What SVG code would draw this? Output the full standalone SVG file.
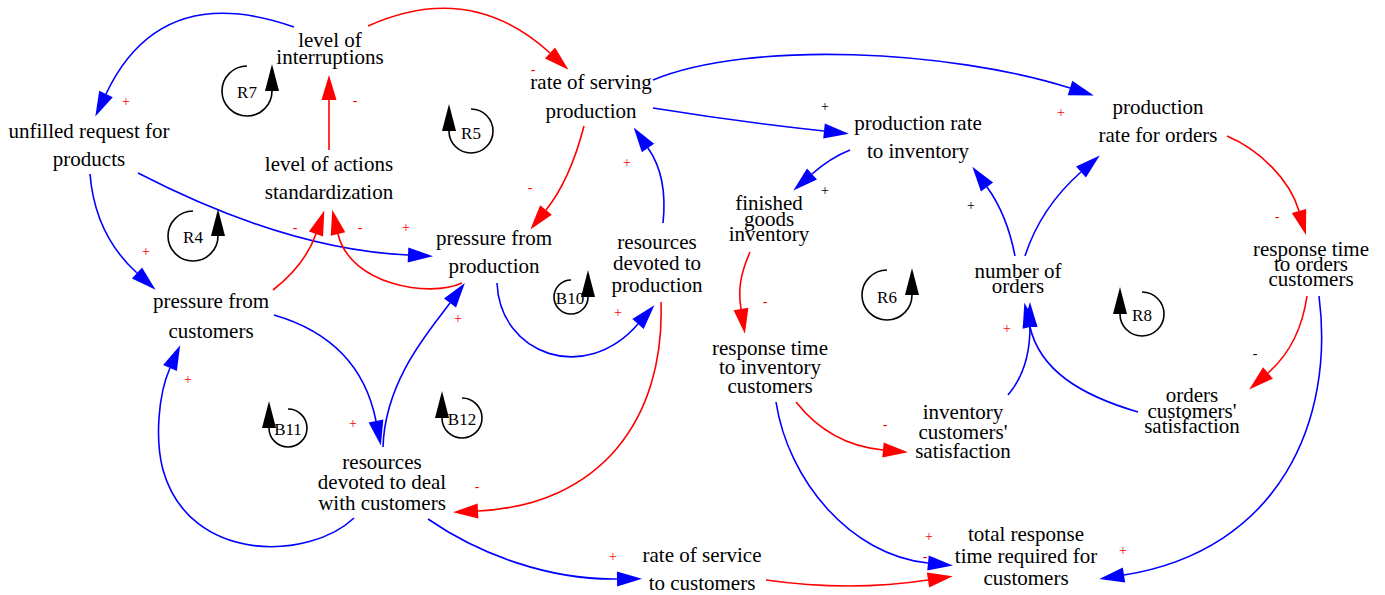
<svg xmlns="http://www.w3.org/2000/svg" width="1385" height="595" viewBox="0 0 1385 595">
<style>
.n{font-family:"Liberation Serif","Times New Roman",serif;font-size:21px;fill:#000;text-anchor:middle}
.lp{font-family:"Liberation Serif","Times New Roman",serif;font-size:17px;fill:#000;text-anchor:middle}
.p{font-family:"Liberation Serif","Times New Roman",serif;font-size:14px;fill:#f00;text-anchor:middle}
.pk{fill:#000}
.b{fill:none;stroke:#00f;stroke-width:1.6;marker-end:url(#ab)}
.r{fill:none;stroke:#f00;stroke-width:1.6;marker-end:url(#ar)}
.k{fill:none;stroke:#000;stroke-width:1.6;marker-end:url(#ak)}
</style>
<defs>
<marker id="ab" markerUnits="userSpaceOnUse" markerWidth="26" markerHeight="15" viewBox="0 0 26 15" refX="0" refY="7.5" orient="auto" overflow="visible"><path d="M0,0 L25,7.5 L0,15 z" fill="#00f"/></marker>
<marker id="ar" markerUnits="userSpaceOnUse" markerWidth="26" markerHeight="15" viewBox="0 0 26 15" refX="0" refY="7.5" orient="auto" overflow="visible"><path d="M0,0 L25,7.5 L0,15 z" fill="#f00"/></marker>
<marker id="ak" markerUnits="userSpaceOnUse" markerWidth="28" markerHeight="14" viewBox="0 0 28 14" refX="0" refY="7" orient="auto" overflow="visible"><path d="M0,0 L27,7 L0,14 z" fill="#000"/></marker>
</defs>
<rect width="1385" height="595" fill="#fff"/>

<g id="connectors">
<path class="b" d="M294,27 Q160,-20 106,94"/>
<path class="r" d="M368,26 Q470,-20 550,53"/>
<path class="r" d="M329,150 L329,100"/>
<path class="b" d="M90,174 Q95,235 137,273"/>
<path class="b" d="M138,173 C200,205 300,250 408,255"/>
<path class="r" d="M273,290 Q305,265 316,234"/>
<path class="r" d="M462,283 C430,298 350,285 338,234"/>
<path class="r" d="M584,126 Q570,180 546,210"/>
<path class="b" d="M663,223 C666,195 662,168 648,148"/>
<path class="b" d="M497,283 C500,355 585,385 638,324"/>
<path class="r" d="M661,302 C665,420 600,505 478,511"/>
<path class="b" d="M274,315 Q360,340 376,421"/>
<path class="b" d="M383,447 C385,380 430,330 450,303"/>
<path class="b" d="M354,518 C310,560 190,565 163,470 C155,440 158,395 170,368"/>
<path class="b" d="M428,519 C480,555 550,580 617,579"/>
<path class="r" d="M766,580 Q850,592 928,580"/>
<path class="b" d="M776,402 C788,480 850,555 928,563"/>
<path class="b" d="M1319,296 C1335,420 1280,550 1124,575"/>
<path class="r" d="M1307,296 Q1300,345 1268,373"/>
<path class="b" d="M1138,412 C1080,395 1040,370 1030,327"/>
<path class="b" d="M1008,395 C1025,375 1030,350 1030,327"/>
<path class="b" d="M1015,256 C1010,230 1000,205 987,187"/>
<path class="b" d="M1025,256 C1035,225 1055,195 1081,172"/>
<path class="b" d="M850,150 Q830,158 812,174"/>
<path class="r" d="M750,252 C740,275 738,290 741,309"/>
<path class="r" d="M796,402 Q830,445 883,450"/>
<path class="b" d="M653,108 Q740,122 824,131"/>
<path class="b" d="M653,80 C750,40 950,50 1070,88"/>
<path class="r" d="M1227,136 C1260,150 1290,180 1299,211"/>
</g>

<g id="polarities">
<text class="p" x="126" y="106">+</text>
<text class="p" x="355" y="105">-</text>
<text class="p" x="533" y="74">-</text>
<text class="p" x="146" y="256">+</text>
<text class="p" x="295" y="232">-</text>
<text class="p" x="360" y="232">-</text>
<text class="p" x="406" y="232">+</text>
<text class="p" x="530" y="192">-</text>
<text class="p" x="627" y="167">+</text>
<text class="p" x="458" y="323">+</text>
<text class="p" x="618" y="317">+</text>
<text class="p" x="188" y="384">+</text>
<text class="p" x="353" y="428">+</text>
<text class="p" x="477" y="491">-</text>
<text class="p" x="613" y="561">+</text>
<text class="p pk" x="825" y="111">+</text>
<text class="p pk" x="825" y="195">+</text>
<text class="p pk" x="971" y="210">+</text>
<text class="p" x="1061" y="117">+</text>
<text class="p" x="1277" y="221">-</text>
<text class="p" x="765" y="306">-</text>
<text class="p" x="1007" y="333">+</text>
<text class="p pk" x="1255" y="358">-</text>
<text class="p" x="885" y="429">-</text>
<text class="p" x="929" y="541">+</text>
<text class="p" x="925" y="561">-</text>
<text class="p" x="1123" y="555">+</text>
</g>

<g id="loop-R7"><path class="k" d="M247,66 A25,25 0 1 0 272,91"/><text class="lp" x="247" y="98">R7</text></g>
<g id="loop-R4"><path class="k" d="M193,211 A25,25 0 1 0 218,236"/><text class="lp" x="193" y="243">R4</text></g>
<g id="loop-R5"><path class="k" d="M471,109 A22,22 0 1 1 449,131"/><text class="lp" x="471" y="139">R5</text></g>
<g id="loop-B10"><path class="k" d="M571,280 A17,17 0 1 0 588,297"/><text class="lp" x="570" y="304">B10</text></g>
<g id="loop-B11"><path class="k" d="M288,409 A19,19 0 1 1 269,428"/><text class="lp" x="288" y="435">B11</text></g>
<g id="loop-B12"><path class="k" d="M462,398 A20,20 0 1 1 442,418"/><text class="lp" x="462" y="425">B12</text></g>
<g id="loop-R6"><path class="k" d="M887,270 A25,25 0 1 0 912,295"/><text class="lp" x="887" y="303">R6</text></g>
<g id="loop-R8"><path class="k" d="M1142,292 A22,22 0 1 1 1120,314"/><text class="lp" x="1142" y="321">R8</text></g>

<g id="level-of-interruptions"><text class="n" x="330" y="47">level of</text><text class="n" x="330" y="64">interruptions</text></g>
<g id="unfilled-request"><text class="n" x="89" y="138">unfilled request for</text><text class="n" x="89" y="166">products</text></g>
<g id="level-of-actions"><text class="n" x="329" y="171">level of actions</text><text class="n" x="329" y="199">standardization</text></g>
<g id="rate-of-serving"><text class="n" x="591" y="89">rate of serving</text><text class="n" x="591" y="118">production</text></g>
<g id="pressure-production"><text class="n" x="494" y="245">pressure from</text><text class="n" x="494" y="273">production</text></g>
<g id="pressure-customers"><text class="n" x="211" y="308">pressure from</text><text class="n" x="211" y="338">customers</text></g>
<g id="resources-production"><text class="n" x="657" y="249">resources</text><text class="n" x="657" y="270">devoted to</text><text class="n" x="657" y="292">production</text></g>
<g id="resources-customers"><text class="n" x="382" y="469">resources</text><text class="n" x="382" y="489">devoted to deal</text><text class="n" x="382" y="510">with customers</text></g>
<g id="production-rate-inventory"><text class="n" x="918" y="130">production rate</text><text class="n" x="918" y="158">to inventory</text></g>
<g id="finished-goods"><text class="n" x="769" y="210">finished</text><text class="n" x="769" y="226">goods</text><text class="n" x="769" y="241">inventory</text></g>
<g id="production-rate-orders"><text class="n" x="1158" y="114">production</text><text class="n" x="1158" y="142">rate for orders</text></g>
<g id="response-orders"><text class="n" x="1311" y="256">response time</text><text class="n" x="1311" y="271">to orders</text><text class="n" x="1311" y="286">customers</text></g>
<g id="number-of-orders"><text class="n" x="1018" y="278">number of</text><text class="n" x="1018" y="293">orders</text></g>
<g id="response-inventory"><text class="n" x="770" y="355">response time</text><text class="n" x="770" y="374">to inventory</text><text class="n" x="770" y="393">customers</text></g>
<g id="inventory-satisfaction"><text class="n" x="963" y="419">inventory</text><text class="n" x="963" y="439">customers'</text><text class="n" x="963" y="458">satisfaction</text></g>
<g id="orders-satisfaction"><text class="n" x="1192" y="402">orders</text><text class="n" x="1192" y="418">customers'</text><text class="n" x="1192" y="433">satisfaction</text></g>
<g id="total-response"><text class="n" x="1026" y="541">total response</text><text class="n" x="1026" y="563">time required for</text><text class="n" x="1026" y="585">customers</text></g>
<g id="rate-of-service"><text class="n" x="702" y="562">rate of service</text><text class="n" x="702" y="590">to customers</text></g>
</svg>
